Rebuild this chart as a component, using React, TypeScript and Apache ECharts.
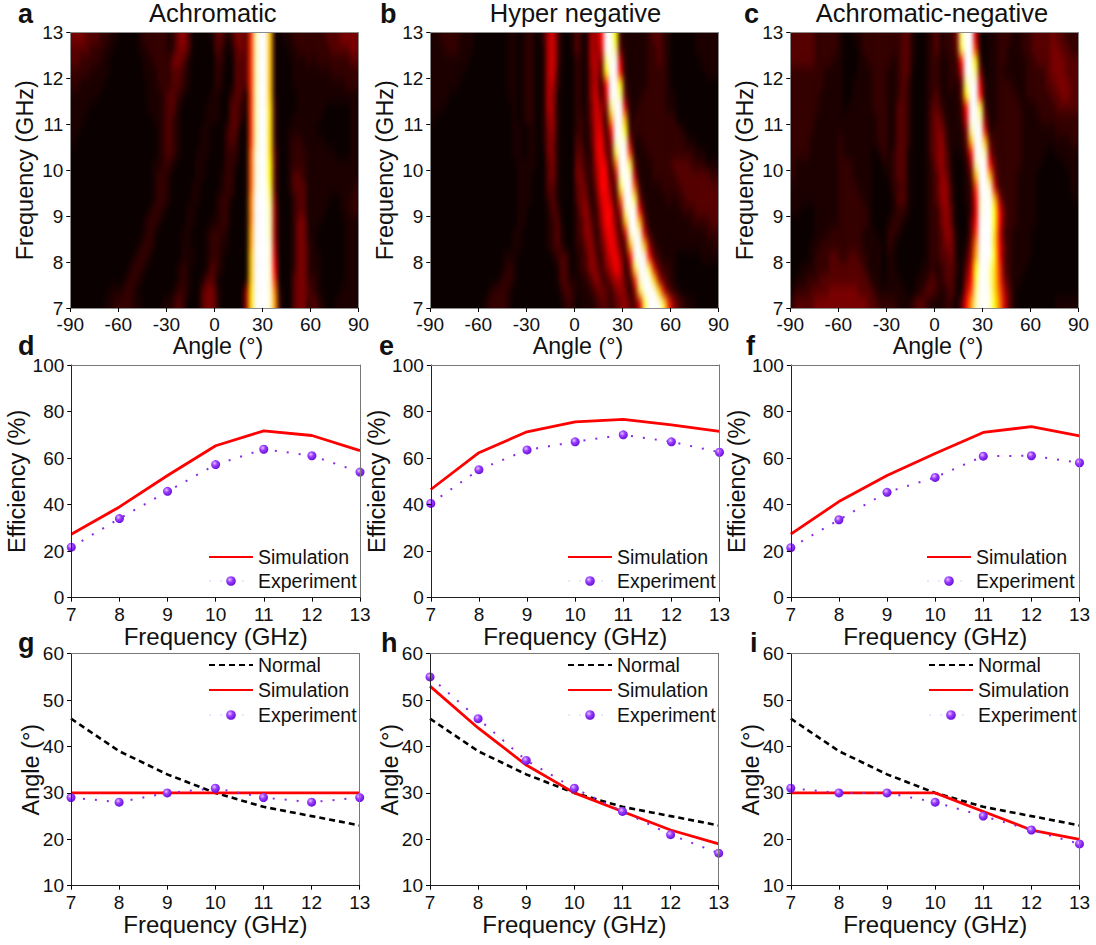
import React, { useEffect, useRef } from "react";
import * as echarts from "echarts";

// Heatmap cells: each char is a level 0..K (base 21); 60 columns of 3 degrees, 24 rows of 0.25 GHz, top row = 13 GHz.
const heatA = [
  "4443332211 0000122222 1245300001 33124439IK KD10112222 2223334444",
  "3333222110 0000112222 1244300000 32013439IK KD10011222 2222333344",
  "3322221100 0000011222 2443100000 22003339IK KD10001112 1222222233",
  "2222111100 0000011122 2332100000 21003339IK KD10001111 1111222222",
  "2211111000 0000001122 2332100000 21003339IK KD10001111 1111111222",
  "1111110000 0000001112 3321000001 10023309IK KD10000111 1111111111",
  "1111000000 0000001112 3310000011 10033219IK KE20000111 1110000011",
  "1110000000 0000000112 3210000011 10033209IK KE20001111 1100000011",
  "1100000000 0000000012 3210000110 00233009IK KE20011111 1000000011",
  "1000000000 0000000012 3210000110 00232009IK KE20012211 1110000011",
  "0000000000 0000000012 3210001110 0022200AJK KE30012221 1111100011",
  "0000000000 0000000112 2100001100 0022100AJK KF30012221 1111111111",
  "0000000000 0000000122 1000001100 0122000AJK KF30013321 1111111111",
  "0000000000 0000000122 1000011000 0122000AJK KG30013331 1111111112",
  "0000000000 0000000122 1000011000 1221000BKK KH40002331 1111001122",
  "0000000000 0000001221 0000110000 1220000BKK KI50002331 1110001122",
  "0000000000 0000012210 0000110001 1220000BKK KI50002441 1100000111",
  "0000000000 0000012100 0001100012 2210000CKK KI50002441 1000000111",
  "0000000000 0000122100 0001100012 2110000CKK KJ60002442 1000000111",
  "0000000000 0001221000 0001110012 2100000DKK KJ70002442 1100000111",
  "0000000000 0012210000 0012100013 2100000DKK KJ80002442 1100000111",
  "0000000000 0122100000 0012100133 1000000DKK KJ90003442 2100000111",
  "0000000011 1221000000 0122100344 2000005EKK KJB1003443 2100001111",
  "0000000112 2221100001 1232000344 2000005EKK KJC2003442 3210011111",
];
const heatB = [
  "1122221110 0000001101 2102673001 311658KKF2 1111123321 0000011111",
  "1112221110 0000001101 2101673001 311657KKH3 1111122321 0000011111",
  "1111111100 0000001101 2101673000 211664HKK7 1111122321 0000001111",
  "1111111000 0000001101 2101672000 211563FKK8 1111122221 0000000111",
  "1111110000 0000001101 2101662000 2115628KKF 2111122221 0000000000",
  "1111000000 0000001101 2101651000 2115727KKH 3111222221 1000000000",
  "1110000000 0000000101 2101651000 2114754HKK 7112222221 1000000000",
  "1000000000 0000000101 2101551000 2214762CKK C122222222 2000000000",
  "0000000000 0000000110 1101451000 22137728KK F222222222 2210000000",
  "0000000000 0000000110 1101441000 32137835JK J511222222 2221100000",
  "0000000000 0000000110 1100441000 33127843GK K911122222 2222211000",
  "0000000000 0000000011 1100341000 43226872AK KG31112222 3333222111",
  "0000000000 0000000011 1000341000 442258826J KJ61112222 2333333322",
  "0000000000 0000000011 1000331000 343148843G KKA2111122 2233333333",
  "0000000000 0000000011 1000231000 344137862A KKG4111112 1223333333",
  "0000000000 0000000011 0000132000 2452268836 IKK8211111 1122233333",
  "0000000000 0000000011 0000123000 2353258843 DKKD411111 1111222233",
  "0000000000 0000000110 0000123100 2354147862 7JKJ721111 1111111222",
  "0000000000 0000000110 0000123100 2245236873 3DKKD52111 1111111112",
  "0000000000 0000011100 0000012320 1235325785 28KKK83211 1000001111",
  "0000000000 0000012100 0000001320 1235424687 15GKKG7322 1000000000",
  "0000000000 0000122100 0000001321 1123532466 329JKKE632 1000000000",
  "0000000000 0012221000 0000000232 1112343245 415GKKKE73 2100000000",
  "0000000000 0122221000 0000000122 0111233234 5337GKKKG9 5321100000",
];
const heatC = [
  "3333322222 1001122222 2223310012 31224HKK71 0112221122 3333433222",
  "3333322222 1000122222 2223310012 31223GKK91 0112211122 3333443322",
  "3333322221 1000112222 2123310012 211228KKF2 0112211112 2333444333",
  "2222222111 1000111222 1123300012 211226KKH4 0112111112 2223444333",
  "2222222111 1001111222 1123200012 211213HKK7 1112221112 2223344433",
  "2222221111 1001111222 1123200012 311113FKK8 1112222112 2222334433",
  "2222221111 1011111222 1133200013 3211128KKG 2112222211 1222233333",
  "2222211111 1111111122 1133200013 4311127KKI 4112222211 1122222222",
  "2222211111 1111111122 1133200013 4421114IKK 7122222211 1111122222",
  "2222111111 2111111122 1133200013 4521113DKK D322222211 1111111122",
  "2222111111 2111111012 1233100013 45310128KK I522222211 1110011111",
  "2111111111 2221111001 1233100012 45310015IK K832222211 1100000111",
  "2111111111 2221111000 1233100012 35410013DK KD42222111 1000000011",
  "1111111111 2222111000 0223100012 355200129K KJ72222111 1000000011",
  "1111111111 2222211000 0133100012 355200128J KKD5222111 1000000001",
  "1100011111 2222221000 0122100012 245300027J KKF8322111 1000000000",
  "0000011111 2222221000 1221000012 245300038K KKF8322111 1000000000",
  "0000011122 2222211100 2210000012 235410039K KKE7221111 0000000000",
  "0000112222 2222211110 2100000012 23441014BK KKE8321111 0000000000",
  "0000122233 2233221110 1100000012 23341025CK KKF8321111 0000000000",
  "0011122233 3333321110 1100000112 12332037FK KIE9321110 0000000000",
  "0112223333 3333332110 1110001123 22331048GK KIE9421100 0000000000",
  "1222333344 4444333211 1111001233 21231069HK KJEA631000 0000000000",
  "2333344444 4444443322 2211123321 1122038CIK KJFB731000 0000011111",
];

const freqs = [7, 8, 9, 10, 11, 12, 13];
const effSimD = [27.3, 39, 52.5, 65.3, 71.7, 69.7, 63.2];
const effExpD = [21.7, 34, 45.7, 57.2, 63.8, 61, 54];
const effSimE = [46.5, 62.3, 71.3, 75.6, 76.6, 74.3, 71.5];
const effExpE = [40.5, 55, 63.5, 67, 70, 67, 62.5];
const effSimF = [27.3, 41.3, 52.5, 62, 71, 73.5, 69.5];
const effExpF = [21.5, 33.5, 45.3, 51.7, 60.8, 61, 58];
const angNormal = [46, 39, 34, 30, 27, 25, 23];
const angSimG = [30, 30, 30, 30, 30, 30, 30];
const angExpG = [29, 28, 30, 31, 29, 28, 29];
const angSimH = [53, 44, 36, 30, 26, 22, 19];
const angExpH = [55, 46, 37, 31, 26, 21, 17];
const angSimI = [30, 30, 30, 30, 26, 22, 20];
const angExpI = [31, 30, 30, 28, 25, 22, 19];

const titles = ["Achromatic", "Hyper negative", "Achromatic-negative"];

const FONT = '"Liberation Sans", Arial, sans-serif';
const TICK = 19;
const NAME = 23.5;
const HOT = [
  "#0a0000", "#1c0000", "#340000", "#560000", "#7a0000", "#980000", "#b40000", "#d80000", "#ff0000",
  "#ff3000", "#ff5a00", "#ff8000", "#ffa000", "#ffc000", "#ffe000", "#ffff00", "#ffff40", "#ffff80",
  "#ffffb0", "#ffffd8", "#ffffff",
];
const PURPLE = "#8a2be2";
const marble = {
  type: "radial", x: 0.38, y: 0.35, r: 0.65,
  colorStops: [
    { offset: 0, color: "#e2c4ff" },
    { offset: 0.45, color: "#9a3cff" },
    { offset: 1, color: "#6a12d8" },
  ],
};
const heatBoxes = [
  { left: 70, top: 32, width: 289, height: 276 },
  { left: 430, top: 32, width: 289, height: 276 },
  { left: 790, top: 32, width: 289, height: 276 },
];
const heats = [heatA, heatB, heatC];
// Cells repeated past each edge, out of sight, so that the smoothing does not fade at the frame.
const PAD_COLS = 3;
const PAD_ROWS = 3;

function heatData(rows: string[]) {
  const out: number[][] = [];
  const n = rows.length;
  const clean = rows.map((row) => row.replace(/ /g, "").padEnd(60, "0"));
  for (let r = -PAD_ROWS; r < n + PAD_ROWS; r++) {
    const s = clean[Math.max(0, Math.min(n - 1, r))];
    for (let c = -PAD_COLS; c < 60 + PAD_COLS; c++) {
      out.push([c + PAD_COLS, n - 1 - r + PAD_ROWS, parseInt(s[Math.max(0, Math.min(59, c))], 21)]);
    }
  }
  return out;
}

function heatOption(rows: string[]) {
  const catX = Array.from({ length: 60 + 2 * PAD_COLS }, (_, i) => String(-88.5 + 3 * (i - PAD_COLS)));
  const catY = Array.from({ length: 24 + 2 * PAD_ROWS }, (_, i) => String(7.125 + 0.25 * (i - PAD_ROWS)));
  const hidden = { axisLine: { show: false }, axisTick: { show: false }, axisLabel: { show: false }, splitLine: { show: false }, splitArea: { show: false } };
  return {
    animation: false,
    backgroundColor: "#000000",
    grid: { left: 0, right: 0, top: 0, bottom: 0, show: false },
    xAxis: { type: "category", data: catX, ...hidden },
    yAxis: { type: "category", data: catY, ...hidden },
    visualMap: { show: false, type: "continuous", min: 0, max: 20, inRange: { color: HOT } },
    series: [{ type: "heatmap", data: heatData(rows), silent: true, progressive: 0, itemStyle: { borderWidth: 0 }, emphasis: { disabled: true } }],
  };
}

function buildOption() {
  const grid: any[] = [];
  const xAxis: any[] = [];
  const yAxis: any[] = [];
  const series: any[] = [];
  const legend: any[] = [];
  const graphic: any[] = [];
  const tickStyle = { color: "#000", width: 1 };
  const label = { fontFamily: FONT, fontSize: TICK, color: "#111" };
  const nameStyle = { fontFamily: FONT, fontSize: NAME, color: "#111" };
  const nameStyleX = { fontFamily: FONT, fontSize: 24, color: "#111" };
  const nameStyleAngle = { fontFamily: FONT, fontSize: 23.2, color: "#111", padding: [0, 0, 0, 7] };

  const addGrid = (left: number, top: number, width: number, height: number) => {
    grid.push({ left, top, width, height, show: false });
    return grid.length - 1;
  };

  const valueAxis = (gi: number, pos: string, min: number, max: number, interval: number, name: string, gap: number, colour: string) => ({
    type: "value", gridIndex: gi, position: pos, min, max, interval, z: 10,
    name, nameLocation: "middle", nameGap: gap, nameMoveOverlap: false,
    nameTextStyle: pos === "bottom" ? (name.startsWith("Angle") ? nameStyleAngle : nameStyleX) : nameStyle,
    splitLine: { show: false },
    axisLine: { show: true, onZero: false, lineStyle: { color: colour, width: 1 } },
    axisTick: { show: true, length: 4, inside: false, lineStyle: tickStyle },
    axisLabel: { ...label, margin: 7, hideOverlap: false, showMinLabel: true, showMaxLabel: true },
  });
  const frameAxis = (gi: number, pos: string, min: number, max: number, colour: string) => ({
    type: "value", gridIndex: gi, position: pos, min, max, z: 10,
    splitLine: { show: false },
    axisLine: { show: true, onZero: false, lineStyle: { color: colour, width: 1 } },
    axisTick: { show: false }, axisLabel: { show: false },
  });

  // top row: axes only, the cells are drawn by the heat layers under this chart
  heatBoxes.forEach((b) => {
    const gi = addGrid(b.left + 0.3, b.top + 0.3, b.width - 0.7, b.height - 0.3);
    xAxis.push(valueAxis(gi, "bottom", -90, 90, 30, "Angle (°)", 26, "#8c8c8c"));
    yAxis.push(valueAxis(gi, "left", 7, 13, 1, "Frequency (GHz)", 33, "#8c8c8c"));
    xAxis.push(frameAxis(gi, "top", -90, 90, "#8c8c8c"));
    yAxis.push(frameAxis(gi, "right", 7, 13, "#8c8c8c"));
  });

  const addLines = (left: number, top: number, width: number, height: number, ymin: number, ymax: number, yint: number, yname: string, ygap: number, list: { name: string; data: number[] }[], legendLeft: number, legendTop: number, legendGap: number) => {
    const gi = addGrid(left, top, width, height);
    const xi = xAxis.length;
    const yi = yAxis.length;
    xAxis.push(valueAxis(gi, "bottom", 7, 13, 1, "Frequency (GHz)", 27, "#222"));
    yAxis.push(valueAxis(gi, "left", ymin, ymax, yint, yname, ygap, "#222"));
    xAxis.push(frameAxis(gi, "top", 7, 13, "#777"));
    yAxis.push(frameAxis(gi, "right", ymin, ymax, "#777"));
    const legendData: any[] = [];
    list.forEach((s) => {
      const pts = freqs.map((f, i) => [f, s.data[i]]);
      const base: any = { name: s.name, type: "line", xAxisIndex: xi, yAxisIndex: yi, data: pts, clip: false, silent: true, smooth: false };
      if (s.name === "Normal") {
        series.push({ ...base, symbol: "none", z: 3, itemStyle: { color: "#000" }, lineStyle: { color: "#000", width: 2.6, type: [6, 4] } });
        legendData.push({ name: "Normal", itemStyle: { opacity: 0 } });
      } else if (s.name === "Simulation") {
        series.push({ ...base, symbol: "none", z: 4, itemStyle: { color: "#ff0000" }, lineStyle: { color: "#ff0000", width: 2.8 } });
        legendData.push({ name: "Simulation", itemStyle: { opacity: 0 } });
      } else {
        series.push({ ...base, symbol: "circle", symbolSize: 9, z: 5, itemStyle: { color: marble, borderWidth: 0 }, lineStyle: { color: PURPLE, width: 2, type: [2, 10] } });
        legendData.push({ name: "Experiment", lineStyle: { color: "#eee6ff", width: 2, type: [2, 9] } });
      }
    });
    legend.push({
      show: true, orient: "vertical", left: legendLeft, top: legendTop, itemGap: legendGap, itemWidth: 44, itemHeight: 12,
      selectedMode: false, data: legendData, padding: 0,
      textStyle: { fontFamily: FONT, fontSize: 19.5, color: "#111" },
    });
  };

  const row2 = [71.3, 430.8, 790.8];
  const row3 = [71, 430, 790.8];
  const effs = [[effSimD, effExpD], [effSimE, effExpE], [effSimF, effExpF]];
  const angs = [[angSimG, angExpG], [angSimH, angExpH], [angSimI, angExpI]];
  const legLeft2 = [208, 567, 926];
  const legLeft3 = [208, 567, 928];
  effs.forEach((e, k) => addLines(row2[k], 365, 288.7, 232.7, 0, 100, 20, "Efficiency (%)", 42, [{ name: "Simulation", data: e[0] }, { name: "Experiment", data: e[1] }], legLeft2[k], 547, 4));
  angs.forEach((a, k) => addLines(row3[k], 653.7, 288.7, 232, 10, 60, 10, "Angle (°)", 28, [{ name: "Normal", data: angNormal }, { name: "Simulation", data: a[0] }, { name: "Experiment", data: a[1] }], legLeft3[k], 655, 5));

  titles.forEach((t, k) => {
    graphic.push({ type: "text", x: [212.8, 575.5, 932][k], y: 12.9, style: { text: t, font: `25.5px ${FONT}`, fill: "#111", textAlign: "center", textVerticalAlign: "middle" } });
  });
  const letters: [string, number, number][] = [
    ["a", 18, 14], ["b", 380, 14], ["c", 744, 14],
    ["d", 18, 346], ["e", 379, 346], ["f", 746, 346],
    ["g", 18, 643], ["h", 381, 643], ["i", 750, 643],
  ];
  letters.forEach(([t, x, y]) => {
    graphic.push({ type: "text", x, y, style: { text: t, font: `bold 27px ${FONT}`, fill: "#111", textAlign: "left", textVerticalAlign: "middle" } });
  });

  return { animation: false, backgroundColor: "transparent", grid, xAxis, yAxis, series, legend, graphic };
}

export default function App() {
  const ref = useRef<HTMLDivElement>(null);
  const heatRefs = useRef<(HTMLDivElement | null)[]>([]);
  useEffect(() => {
    const charts = heats.map((rows, k) => {
      const c = echarts.init(heatRefs.current[k]!, undefined, { renderer: "svg" });
      c.setOption(heatOption(rows) as any);
      return c;
    });
    const chart = echarts.init(ref.current!, undefined, { renderer: "svg" });
    chart.setOption(buildOption() as any);
    return () => {
      charts.forEach((c) => c.dispose());
      chart.dispose();
    };
  }, []);
  return (
    <div style={{ position: "absolute", left: 0, top: 0, width: 1096, height: 945, overflow: "hidden", background: "#fff" }}>
      <svg width="0" height="0" style={{ position: "absolute" }}>
        <defs>
          <filter id="heatSmooth" x="0" y="0" width="100%" height="100%" colorInterpolationFilters="sRGB">
            <feGaussianBlur stdDeviation="2 5.5" />
          </filter>
        </defs>
      </svg>
      {heatBoxes.map((b, k) => {
        const cw = b.width / 60;
        const rh = b.height / 24;
        return (
          <div key={k} style={{ position: "absolute", ...b, overflow: "hidden" }}>
            <div
              ref={(el) => {
                heatRefs.current[k] = el;
              }}
              style={{
                position: "absolute",
                left: -PAD_COLS * cw,
                top: -PAD_ROWS * rh,
                width: b.width + 2 * PAD_COLS * cw,
                height: b.height + 2 * PAD_ROWS * rh,
                filter: "url(#heatSmooth)",
              }}
            />
          </div>
        );
      })}
      <div ref={ref} style={{ position: "absolute", left: 0, top: 0, width: 1096, height: 945 }} />
    </div>
  );
}
